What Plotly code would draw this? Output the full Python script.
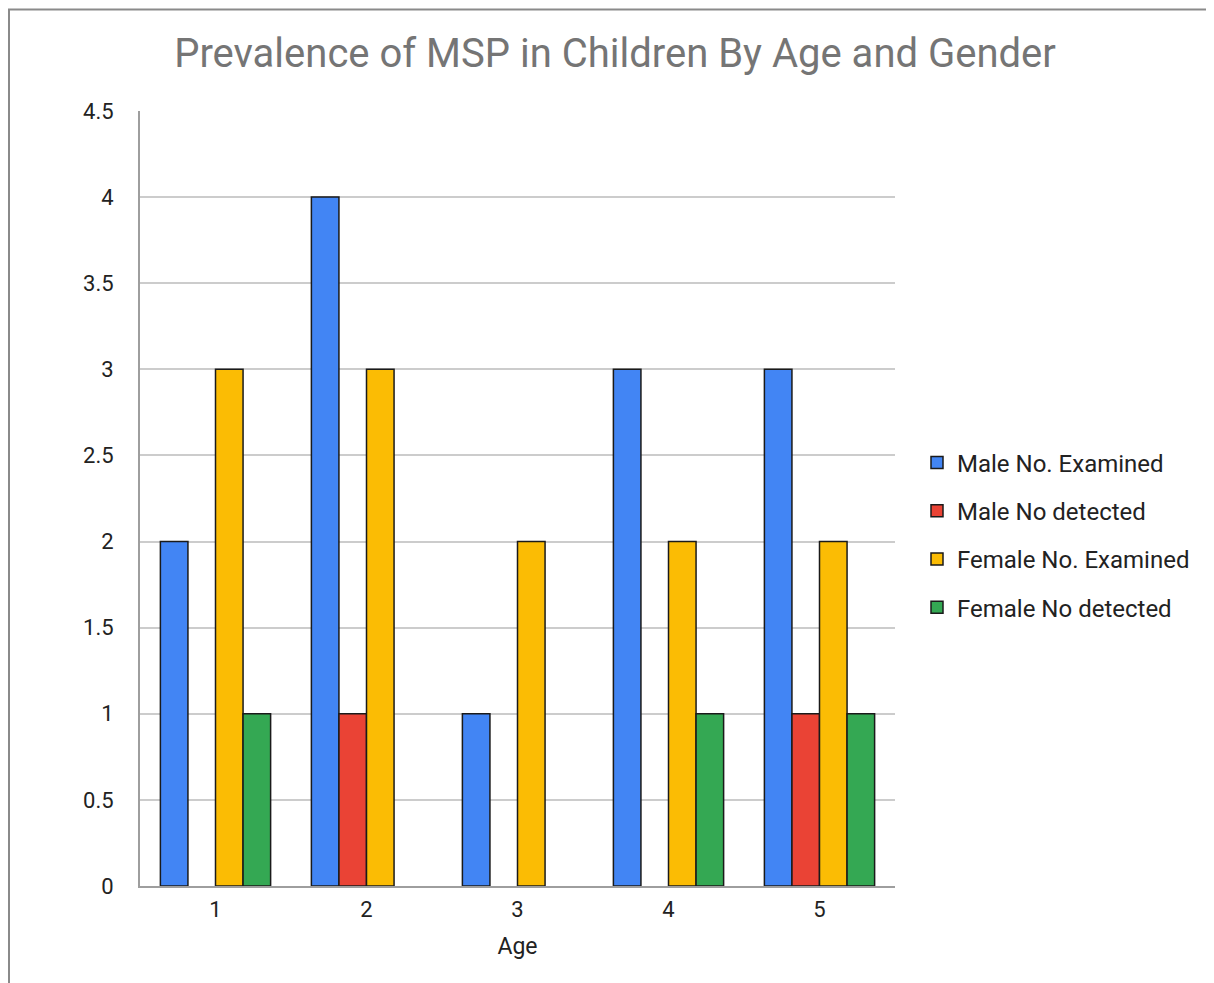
import plotly.graph_objects as go

ages = [1, 2, 3, 4, 5]
tick_labels = ["1", "2", "3", "4", "5"]
male_examined = [2, 4, 1, 3, 3]
male_detected = [None, 1, None, None, 1]
female_examined = [3, 3, 2, 2, 2]
female_detected = [1, None, None, 1, 1]

series = [
    ("Male No. Examined", male_examined, "#4285F4"),
    ("Male No detected", male_detected, "#EA4335"),
    ("Female No. Examined", female_examined, "#FBBC04"),
    ("Female No detected", female_detected, "#34A853"),
]

# page is offset by 8px body margin
OFF = 8
W, H = 1214 - OFF, 983 - OFF
L, T = 140 - OFF, 111 - OFF
R = W - (895 - OFF)
B = H - (886 - OFF)
pw, ph = W - L - R, H - T - B

fig = go.Figure()
for i, (name, vals, col) in enumerate(series):
    fig.add_trace(go.Bar(
        x=ages, y=vals, name=name, legendgroup=f"g{i}",
        marker=dict(color=col, line=dict(color="#1a1a1a", width=1.5)),
    ))

def px_x(px):
    return (px - OFF - L) / pw

def px_y(py):
    return (H - B - (py - OFF)) / ph

fig.update_layout(
    width=W, height=H,
    margin=dict(l=L, r=R, t=T, b=B),
    paper_bgcolor="white", plot_bgcolor="white",
    font=dict(family="Roboto", color="#222222", size=22),
    title=dict(text="Prevalence of MSP in Children By Age and Gender",
               font=dict(family="Roboto", size=40, color="#757575"),
               x=(615 - OFF) / W, xanchor="center", y=1 - (53 - OFF) / H, yanchor="middle"),
    barmode="group", bargap=0.27, bargroupgap=0,
    xaxis=dict(range=[0.5, 5.5], tickmode="array", tickvals=ages, ticktext=tick_labels,
               showgrid=False, showline=True, linecolor="#9e9e9e", linewidth=2,
               ticks="", ticklen=0, tickfont=dict(size=22, color="#222222"),
               ticklabelstandoff=3,
               title=dict(text="Age", font=dict(size=23, color="#222222"), standoff=16),
               zeroline=False, fixedrange=True),
    yaxis=dict(range=[0, 4.5], dtick=0.5, showgrid=True, gridcolor="#cccccc", gridwidth=2,
               showline=True, linecolor="#9e9e9e", linewidth=2, zeroline=False,
               ticks="", tickfont=dict(size=22, color="#222222"), ticklabelstandoff=20,
               fixedrange=True),
    legend=dict(x=px_x(917), xanchor="left", y=px_y(535), yanchor="middle",
                traceorder="grouped", tracegroupgap=14,
                font=dict(size=24, color="#222222"), bgcolor="rgba(0,0,0,0)"),
    showlegend=True,
    shapes=[
        dict(type="line", xref="paper", yref="paper", x0=px_x(8), x1=px_x(1214),
             y0=px_y(9.5), y1=px_y(9.5), line=dict(color="#8a8a8a", width=2)),
        dict(type="line", xref="paper", yref="paper", x0=px_x(9), x1=px_x(9),
             y0=px_y(9.5), y1=px_y(983), line=dict(color="#8a8a8a", width=2)),
    ],
)

fig.write_html("out.html")
